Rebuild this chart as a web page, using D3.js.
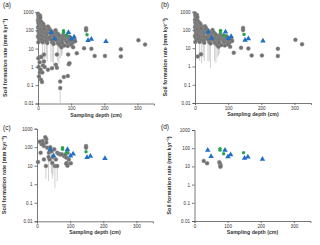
<!DOCTYPE html>
<html>
<head>
<meta charset="utf-8">
<script src="https://cdn.jsdelivr.net/npm/d3@7"></script>
<style>
  body { margin: 0; background: #fff; }
  svg { display: block; font-family: "Liberation Sans", Arial, sans-serif; }
  .axis path, .axis line { stroke: #555; stroke-width: 0.8; }
  .axis text { font-size: 4.6px; fill: #333; }
</style>
</head>
<body>
<svg width="320" height="245"></svg>
<script>
// Data: [depth (cm), rate (mm/kyr), lower error bound or 0]
const cloudPoints = [
  [0,800,0],[1,600,0],[2,450,0],[0,350,0],[3,300,0],[1,250,0],[4,200,0],[2,170,0],[0,140,0],[3,120,0],
  [5,100,0],[1,90,0],[4,70,0],[2,55,0],[0,45,0],[3,35,0],[5,28,0],[1,22,0],[6,650,0],[5,380,0],
  [7,500,0],[8,320,0],[9,240,0],[10,180,0],[11,150,0],[12,260,0],[13,200,0],[14,130,0],[8,110,0],[10,90,0],
  [12,75,0],[15,60,0],[9,50,0],[13,40,0],[11,30,0],[14,22,2],[8,3.5,0],[18,4.7,0],
  [16,220,0],[18,170,0],[20,140,0],[22,110,0],[17,95,0],[19,80,0],[21,70,0],[24,60,0],[26,50,0],[23,42,0],
  [25,35,0],[28,30,0],[18,120,0],[27,90,0],[29,75,0],[30,160,0],[20,28,1.5],[25,25,3],[28,20,2],
  [32,110,0],[34,90,0],[36,75,0],[38,65,0],[40,55,0],[42,48,0],[35,40,0],[44,38,0],[46,32,0],[48,28,0],
  [33,130,0],[37,100,0],[41,85,0],[45,70,0],[49,60,0],[39,30,2],[43,22,1.8],[47,18,0.8],[50,45,0],
  [52,80,0],[54,65,0],[56,55,0],[58,45,0],[60,40,0],[62,35,0],[55,30,0],[64,28,0],[66,25,0],[68,22,0],
  [53,100,0],[57,70,0],[61,60,0],[65,50,0],[70,42,0],[72,35,0],[74,30,0],[59,20,2],[63,18,1.5],[67,15,3],
  [71,12,4],[73,20,5],
  [76,55,0],[78,45,0],[80,38,0],[82,32,0],[84,28,0],[86,25,0],[88,22,0],[90,40,0],[92,35,0],[94,30,0],
  [96,25,0],[98,20,0],[100,30,0],[102,25,0],[104,20,0],[85,50,0],[95,45,0],[80,15,0],[90,14,0],[100,16,0],
  [106,12,0],[110,30,0],[112,25,0],
  [117,5.6,0],[139,10.5,0],[145,130,0],[145,100,60],[161,9.7,0],[171,4,0],[202,4,0],[250,9.3,0],
  [250,3.7,0],[303,28.7,0],[323,16.5,0]
]
const lowPoints = [
  [1,3,0],[5,1.8,0],[2,1,0],[6,0.5,0],[9,0.2,0],[12,0.15,0],[13,0.5,0],[10,3.5,0],[15,1.2,0],[18,2,0],
  [3,0.3,0],[8,0.7,0],[20,1,0],[30,0.7,0],[42,0.85,0],[54,1.3,0],[57,0.9,0],[67,0.16,0],[67,0.07,0.01],
  [78,0.28,0],[90,0.32,0],[93,1.4,0],[91,4.7,0],[57,4.7,0],[95,1.6,0]
]
const cPoints = [
  [3,16,0],[14,145,0],[16,215,0],[21,115,0],[28,270,0],[28,180,0],[31,94,0],[11,50,0],[21,22,0],[36,50,0],
  [38,22,0],[27,9.6,1.9],[46,14,2],[52,77,0],[57,22,0],[61,50,0],[54,9.6,0.65],[61,9.6,1.5],[82,33,0],
  [88,28,0],[90,14,0],[92,10,0],[96,22,0],[92,50,0],[102,13.5,0],[148,115,0],[148,95,0],[25,350,0],
  [8,200,0],[18,150,0],[40,100,0],[44,60,4],[48,30,3],[35,30,1.5],[65,45,0],[70,40,0],[75,42,0],
  [85,38,0],[88,13,0]
]
const dPoints = [[28,20,0],[38,15,0],[75,17,0],[77,14,0],[79,11,0],[78,9.5,0]]
const bluePoints = [[40,77],[50,35],[92,77],[101,34],[109,44],[151,28],[161,33],[205,25]]
const greenPoints = [[77,95],[77,78],[88,50],[148,57]]
const yTicks = [0.01, 0.1, 1, 10, 100, 1000]
const yTickLabels = ['0.01', '0.1', '1', '10', '100', '1000']
const xTicks = [0, 100, 200, 300]
const panelLabels = ['(a)', '(b)', '(c)', '(d)']

const panels = [
  { label: panelLabels[0], gray: cloudPoints.concat(lowPoints), left: 38, top: 12, bottom: 103.5, lx: 3, ly: 7, tx: 7 },
  { label: panelLabels[1], gray: cloudPoints, left: 195, top: 11.7, bottom: 103, lx: 161, ly: 7, tx: 167 },
  { label: panelLabels[2], gray: cPoints, left: 37, top: 128.7, bottom: 221.3, lx: 3, ly: 130, tx: 6 },
  { label: panelLabels[3], gray: dPoints, left: 194.5, top: 130, bottom: 221, lx: 161, ly: 129, tx: 171 }
]

const svg = d3.select('svg')

panels.forEach(p => {
  const x = d3.scaleLinear().domain([0, 350]).range([p.left, p.left + 116])
  const y = d3.scaleLog().domain([0.01, 1000]).range([p.bottom, p.top])
  const g = svg.append('g')

  // Axes
  g.append('g')
    .attr('class', 'axis')
    .attr('transform', `translate(${p.left},0)`)
    .call(d3.axisLeft(y).tickValues(yTicks).tickSize(2.5).tickPadding(2)
      .tickFormat((d, i) => yTickLabels[i]))
  g.append('g')
    .attr('class', 'axis')
    .attr('transform', `translate(0,${p.bottom})`)
    .call(d3.axisBottom(x).tickValues(xTicks).tickSize(2).tickPadding(1.5))

  // Error bars
  g.selectAll('line.err')
    .data(p.gray.filter(d => d[2] > 0))
    .join('line')
    .attr('class', 'err')
    .attr('x1', d => x(d[0])).attr('x2', d => x(d[0]))
    .attr('y1', d => y(d[2])).attr('y2', d => y(d[1]))
    .attr('stroke', '#c4c4c4').attr('stroke-width', 0.8)

  // Gray points
  g.selectAll('circle.gray')
    .data(p.gray)
    .join('circle')
    .attr('class', 'gray')
    .attr('cx', d => x(d[0])).attr('cy', d => y(d[1]))
    .attr('r', 2)
    .attr('fill', '#707070').attr('stroke', '#959595').attr('stroke-width', 0.4)

  // Green points
  g.selectAll('circle.green')
    .data(greenPoints)
    .join('circle')
    .attr('class', 'green')
    .attr('cx', d => x(d[0])).attr('cy', d => y(d[1]))
    .attr('r', 1.7)
    .attr('fill', '#22a84a')

  // Blue triangles
  g.selectAll('path.blue')
    .data(bluePoints)
    .join('path')
    .attr('class', 'blue')
    .attr('transform', d => `translate(${x(d[0])},${y(d[1])})`)
    .attr('d', d3.symbol(d3.symbolTriangle, 13))
    .attr('fill', '#1f6fc4')

  // Titles
  g.append('text')
    .attr('x', p.lx).attr('y', p.ly)
    .attr('font-size', 6.5).attr('fill', '#222')
    .text(p.label)
  g.append('text')
    .attr('transform', `translate(${p.tx},${(p.top + p.bottom) / 2}) rotate(-90)`)
    .attr('text-anchor', 'middle')
    .attr('font-size', 5.6).attr('font-weight', 'bold').attr('fill', '#333')
    .text('Soil formation rate (mm kyr⁻¹)')
  g.append('text')
    .attr('x', p.left + 58).attr('y', p.bottom + 13)
    .attr('text-anchor', 'middle')
    .attr('font-size', 5.2).attr('font-weight', 'bold').attr('fill', '#333')
    .text('Sampling depth (cm)')
})
</script>
</body>
</html>
